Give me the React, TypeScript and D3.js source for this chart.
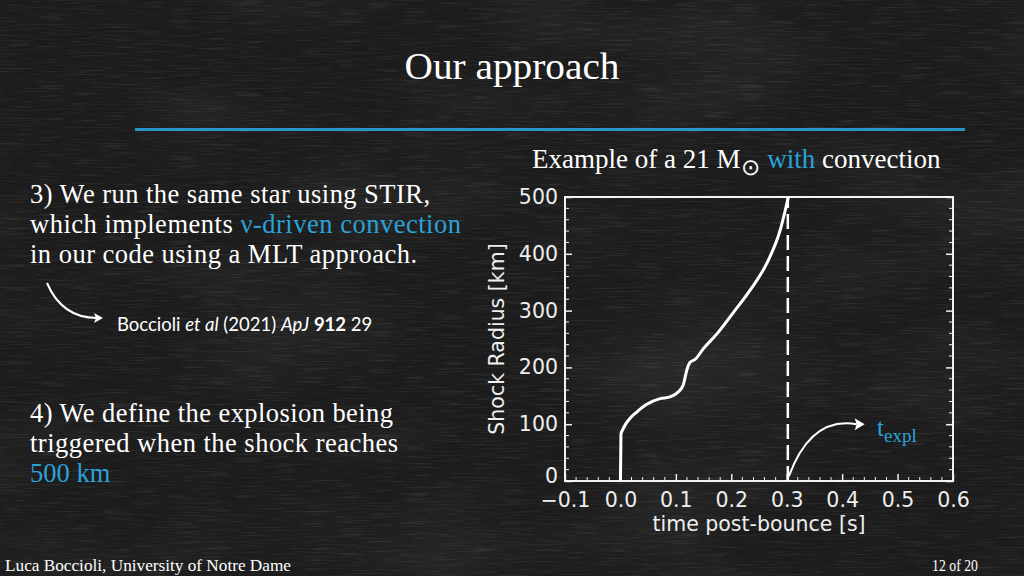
import { useRef, useEffect } from 'react';
import * as d3 from 'd3';

// shock radius evolution
const shockTime = [0.0, 0.0005, 0.001, 0.004, 0.01, 0.017, 0.029, 0.0475, 0.0715, 0.0895, 0.1046, 0.1136, 0.1197, 0.1256, 0.1347, 0.1497, 0.174, 0.204, 0.234, 0.264, 0.288, 0.303];
const shockRadius = [0, 40, 83, 90, 101, 110, 121, 135, 145, 148, 157, 170, 195, 209, 214, 233, 259, 297, 336, 383, 441, 500];
const explosionTime = 0.302;
const xTicks = [-0.1, 0.0, 0.1, 0.2, 0.3, 0.4, 0.5, 0.6];
const yTicks = [0, 100, 200, 300, 400, 500];

const BLUE = '#2aa3d9';
const SERIF = '"Liberation Serif", "Times New Roman", serif';
const SANS = '"DejaVu Sans", sans-serif';

export default function App() {
  const svgRef = useRef<SVGSVGElement>(null);

  useEffect(() => {
    if (!svgRef.current) return;
    const svg = d3.select(svgRef.current);
    svg.selectAll('.plot').remove();

    const left = 565, right = 953, top = 197, bottom = 481;
    const x = d3.scaleLinear().domain([-0.1, 0.6]).range([left, right]);
    const y = d3.scaleLinear().domain([0, 500]).range([bottom, top]);

    const g = svg.append('g').attr('class', 'plot');

    // minor ticks, inward, on left / right / bottom
    const minorY = d3.range(0, 501, 20).filter((v) => v % 100 !== 0);
    const minorX = d3.range(-0.1, 0.6001, 0.02).filter((v) => Math.abs(v * 10 - Math.round(v * 10)) > 0.01);

    g.selectAll('.my')
      .data(minorY)
      .join('line')
      .attr('x1', left).attr('x2', left + 4)
      .attr('y1', (d) => y(d)).attr('y2', (d) => y(d))
      .attr('stroke', '#eee').attr('stroke-width', 1);
    g.selectAll('.myr')
      .data(minorY)
      .join('line')
      .attr('x1', right).attr('x2', right - 4)
      .attr('y1', (d) => y(d)).attr('y2', (d) => y(d))
      .attr('stroke', '#eee').attr('stroke-width', 1);
    g.selectAll('.mx')
      .data(minorX)
      .join('line')
      .attr('x1', (d) => x(d)).attr('x2', (d) => x(d))
      .attr('y1', bottom).attr('y2', bottom - 4)
      .attr('stroke', '#eee').attr('stroke-width', 1);

    // major ticks + labels
    const yAxis = g.append('g')
      .attr('transform', `translate(${left},0)`)
      .call(d3.axisLeft(y).tickValues(yTicks).tickSizeInner(-7).tickSizeOuter(0).tickPadding(7).tickFormat(d3.format('d')));
    const yAxisR = g.append('g')
      .attr('transform', `translate(${right},0)`)
      .call(d3.axisRight(y).tickValues(yTicks).tickSizeInner(-7).tickSizeOuter(0).tickFormat(() => ''));
    const xAxis = g.append('g')
      .attr('transform', `translate(0,${bottom})`)
      .call(d3.axisBottom(x).tickValues(xTicks).tickSizeInner(-7).tickSizeOuter(0).tickPadding(11).tickFormat(d3.format('.1f')));

    [yAxis, yAxisR, xAxis].forEach((a) => {
      a.select('.domain').remove();
      a.selectAll('line').attr('stroke', '#eee').attr('stroke-width', 1.5);
      a.selectAll('text')
        .attr('fill', '#eee')
        .attr('font-family', SANS)
        .attr('font-size', 20.5);
    });
    // the "0" sits a little high, as in the original
    yAxis.selectAll('text').filter((d) => d === 0).attr('dy', '0.05em');

    // frame
    g.append('rect')
      .attr('x', left).attr('y', top)
      .attr('width', right - left).attr('height', bottom - top)
      .attr('fill', 'none')
      .attr('stroke', '#f2f2f2')
      .attr('stroke-width', 2);

    // shock radius curve
    const pts = shockTime.map((t, i) => ({ t, r: shockRadius[i] }));
    const line = d3.line<typeof pts[0]>()
      .x((d) => x(d.t))
      .y((d) => y(d.r))
      .curve(d3.curveMonotoneX);

    g.append('path')
      .datum(pts)
      .attr('fill', 'none')
      .attr('stroke', '#ffffff')
      .attr('stroke-width', 3)
      .attr('stroke-linejoin', 'round')
      .attr('d', line);

    // explosion time marker
    g.append('line')
      .attr('x1', x(explosionTime)).attr('x2', x(explosionTime))
      .attr('y1', y(0)).attr('y2', y(500))
      .attr('stroke', '#ffffff')
      .attr('stroke-width', 2.5)
      .attr('stroke-dasharray', '15 6');

    // axis titles
    g.append('text')
      .attr('transform', `translate(${left - 61},${(top + bottom) / 2}) rotate(-90)`)
      .attr('text-anchor', 'middle')
      .attr('fill', '#eee')
      .attr('font-family', SANS)
      .attr('font-size', 20.5)
      .text('Shock Radius [km]');
    g.append('text')
      .attr('x', (left + right) / 2)
      .attr('y', bottom + 50)
      .attr('text-anchor', 'middle')
      .attr('fill', '#eee')
      .attr('font-family', SANS)
      .attr('font-size', 20.5)
      .text('time post-bounce [s]');

    // arrow to t_expl
    const ax0 = x(explosionTime) + 1, ay0 = y(8);
    const ax1 = x(0.437), ay1 = y(100);
    g.append('path')
      .attr('d', `M${ax0},${ay0} Q${ax0 + 22},${ay1 - 8} ${ax1 - 6},${ay1}`)
      .attr('fill', 'none')
      .attr('stroke', '#fff')
      .attr('stroke-width', 2);
    g.append('path')
      .attr('d', `M${ax1 + 2},${ay1} L${ax1 - 8},${ay1 - 6} L${ax1 - 6},${ay1} L${ax1 - 8},${ay1 + 6} Z`)
      .attr('fill', '#fff');
  }, []);

  return (
    <svg
      ref={svgRef}
      width={1024}
      height={576}
      style={{ position: 'absolute', left: 0, top: 0, display: 'block' }}
    >
      <defs>
        <filter id="chalk" x="0" y="0" width="100%" height="100%">
          <feTurbulence type="fractalNoise" baseFrequency="0.03 0.7" numOctaves="3" seed="4" result="n" />
          <feColorMatrix type="matrix" values="0 0 0 0 1  0 0 0 0 1  0 0 0 0 1  0 0 0 1.1 -0.55" />
        </filter>
        <filter id="clouds" x="0" y="0" width="100%" height="100%">
          <feTurbulence type="fractalNoise" baseFrequency="0.005 0.012" numOctaves="2" seed="9" />
          <feColorMatrix type="matrix" values="0 0 0 0 1  0 0 0 0 1  0 0 0 0 1  0 0 0 0.6 -0.25" />
        </filter>
      </defs>
      <rect width={1024} height={576} fill="#1c1c1c" />
      <rect width={1024} height={576} filter="url(#clouds)" opacity={0.18} />
      <rect width={1024} height={576} filter="url(#chalk)" opacity={0.2} />

      <text x={512} y={79} textAnchor="middle" fill="#fff" fontFamily={SERIF} fontSize={38} textLength={215} lengthAdjust="spacingAndGlyphs">
        Our approach
      </text>
      <line x1={135} x2={965} y1={129.5} y2={129.5} stroke={BLUE} strokeWidth={3.2} opacity={0.9} />

      <text x={532} y={168} fill="#fff" fontFamily={SERIF} fontSize={27}>
        Example of a 21 M<tspan dx={1} dy={7} fontSize={23}>⊙</tspan>
        <tspan dy={-7} fill={BLUE}> with</tspan> convection
      </text>

      <g fill="#fff" fontFamily={SERIF} fontSize={26.5}>
        <text x={30} y={203} textLength={400} lengthAdjust="spacing">3) We run the same star using STIR,</text>
        <text x={30} y={233} textLength={431} lengthAdjust="spacing">
          which implements <tspan fill={BLUE}>ν-driven convection</tspan>
        </text>
        <text x={30} y={263} textLength={387} lengthAdjust="spacing">in our code using a MLT approach.</text>
        <text x={30} y={422} textLength={363} lengthAdjust="spacing">4) We define the explosion being</text>
        <text x={30} y={452} textLength={368} lengthAdjust="spacing">triggered when the shock reaches</text>
        <text x={30} y={482} fill={BLUE}>500 km</text>
      </g>

      <path d="M47,283 Q62,318 97,318" fill="none" stroke="#fff" strokeWidth={2} />
      <path d="M103,318 L94,313 L96,318 L94,323 Z" fill="#fff" />

      <text x={117} y={331} fill="#fff" fontFamily='Lato, "Open Sans", sans-serif' fontSize={18.5}>
        Boccioli <tspan fontStyle="italic">et al</tspan> (2021) <tspan fontStyle="italic">ApJ</tspan>{' '}
        <tspan fontWeight="bold">912</tspan> 29
      </text>

      <text x={877} y={436} fill={BLUE} fontFamily={SERIF} fontSize={25}>
        t<tspan dy={6} fontSize={19}>expl</tspan>
      </text>

      <text x={5} y={571} fill="#fff" fontFamily={SERIF} fontSize={16} textLength={286} lengthAdjust="spacingAndGlyphs">
        Luca Boccioli, University of Notre Dame
      </text>
      <text x={978} y={571} textAnchor="end" fill="#fff" fontFamily={SERIF} fontSize={16} textLength={46} lengthAdjust="spacingAndGlyphs">
        12 of 20
      </text>
    </svg>
  );
}
